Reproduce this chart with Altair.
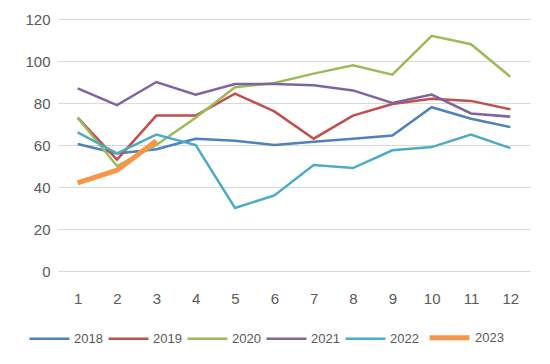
import altair as alt
import pandas as pd

months = list(range(1, 13))
years = ["2018", "2019", "2020", "2021", "2022", "2023"]
s2018 = [60.5, 56, 58, 63, 62, 60, 61.5, 63, 64.5, 78, 72.5, 68.5]
s2019 = [73, 53, 74, 74, 84.5, 76, 63, 74, 79.5, 82, 81, 77]
s2020 = [73, 50, 60, 73, 87.5, 89.5, 94, 98, 93.5, 112, 108, 92.5]
s2021 = [87, 79, 90, 84, 89, 89, 88.5, 86, 80, 84, 75, 73.5]
s2022 = [66, 56, 65, 60, 30, 36, 50.5, 49, 57.5, 59, 65, 58.5]
s2023 = [42, 48, 62]

series = [s2018, s2019, s2020, s2021, s2022, s2023]
colors = ["#4F81BD", "#C0504D", "#9BBB59", "#8064A2", "#4BACC6", "#F79646"]
widths = [2.5, 2.5, 2.5, 2.5, 2.5, 5]

rows = []
for y, vals in zip(years, series):
    for m, v in zip(months, vals):
        rows.append({"month": m, "year": y, "value": v})
df = pd.DataFrame(rows)

leg = alt.Legend(orient="none", legendX=-30, legendY=296, direction="horizontal",
                 symbolType="stroke", symbolSize=1600,
                 labelFontSize=13, labelColor="#595959",
                 labelFont="Liberation Sans",
                 columnPadding=0, labelOffset=3)

chart = alt.Chart(df).mark_line().encode(
    x=alt.X("month:O", title=None, sort=months,
            axis=alt.Axis(labelAngle=0, labelFontSize=15, labelColor="#595959",
                          labelPadding=20, ticks=False, domain=False, grid=False,
                          labelFont="Liberation Sans")),
    y=alt.Y("value:Q", title=None, scale=alt.Scale(domain=[0, 120]),
            axis=alt.Axis(values=[0, 20, 40, 60, 80, 100, 120], labelFontSize=15,
                          labelColor="#595959", labelPadding=8, ticks=False,
                          domain=False, gridColor="#d9d9d9", gridWidth=1.2,
                          labelFont="Liberation Sans")),
    color=alt.Color("year:N", title=None,
                    scale=alt.Scale(domain=years, range=colors), legend=leg),
    strokeWidth=alt.StrokeWidth("year:N", title=None,
                                scale=alt.Scale(type="ordinal", domain=years, range=widths),
                                legend=leg),
    order="month:O",
).properties(
    width=472, height=252,
    autosize=alt.AutoSizeParams(type="none"),
    padding={"left": 50, "top": 11, "right": 12, "bottom": 85},
).configure_view(stroke=None)

chart.save("out.html", embed_options={"renderer": "svg", "actions": False})
